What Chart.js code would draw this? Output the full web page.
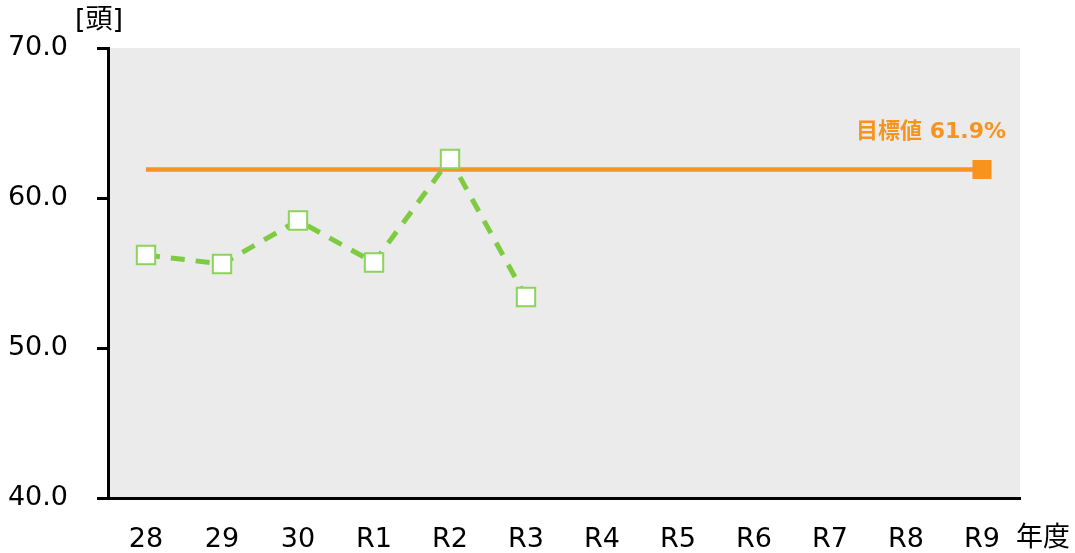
<!DOCTYPE html>
<html>
<head>
<meta charset="utf-8">
<script src="https://cdn.jsdelivr.net/npm/chart.js@4"></script>
<style>
  html, body { margin: 0; padding: 0; background: #fff; }
  #wrap { width: 1075px; height: 553px; }
</style>
</head>
<body>
<div id="wrap"><canvas id="chart"></canvas></div>
<script>
const years = ['28', '29', '30', 'R1', 'R2', 'R3', 'R4', 'R5', 'R6', 'R7', 'R8', 'R9'];
const actualValues = [56.2, 55.6, 58.5, 55.7, 62.6, 53.4, null, null, null, null, null, null];
const targetValues = [61.9, 61.9, 61.9, 61.9, 61.9, 61.9, 61.9, 61.9, 61.9, 61.9, 61.9, 61.9];
const targetLabel = '目標値 61.9%';
const yTicks = [40, 50, 60, 70];

const baseFont = '"DejaVu Sans", "Noto Sans CJK JP", sans-serif';

// gray plot background + extra texts
const decorPlugin = {
    id: 'decor',
    beforeDraw(chart) {
        const a = chart.chartArea;
        const ctx = chart.ctx;
        ctx.save();
        ctx.fillStyle = '#ebebeb';
        ctx.fillRect(a.left, a.top, a.right - a.left, a.bottom - a.top);
        ctx.restore();
    },
    afterDraw(chart) {
        const ctx = chart.ctx;
        ctx.save();
        ctx.fillStyle = '#000';
        ctx.font = '27px ' + baseFont;
        ctx.textBaseline = 'middle';
        ctx.textAlign = 'left';
        ctx.fillText('[頭]', 75, 21);
        ctx.fillText('年度', 1016, 539);

        ctx.fillStyle = '#f7941d';
        ctx.font = 'bold 22px ' + baseFont;
        ctx.textAlign = 'right';
        ctx.fillText(targetLabel, 1006, 132);
        ctx.restore();
    }
};

new Chart(document.getElementById('chart'), {
    type: 'line',
    data: {
        labels: years,
        datasets: [
            {
                label: '実績',
                data: actualValues,
                borderColor: '#7ecb41',
                borderWidth: 5,
                borderDash: [14, 11],
                pointStyle: 'rect',
                pointRadius: 13,
                pointBackgroundColor: '#ffffff',
                pointBorderColor: '#8cd35a',
                pointBorderWidth: 2,
                tension: 0,
                spanGaps: false,
                order: 1
            },
            {
                label: '目標値',
                data: targetValues,
                borderColor: '#f7941d',
                borderWidth: 4.5,
                pointStyle: 'rect',
                pointRadius: targetValues.map((v, i) => i === targetValues.length - 1 ? 13.5 : 0),
                pointBackgroundColor: '#f7941d',
                pointBorderColor: '#f7941d',
                pointBorderWidth: 0,
                tension: 0,
                order: 2
            }
        ]
    },
    options: {
        responsive: true,
        maintainAspectRatio: false,
        animation: false,
        layout: { padding: { top: 48, right: 55, left: 0, bottom: 0 } },
        plugins: {
            legend: { display: false },
            tooltip: { enabled: false },
            title: { display: false }
        },
        scales: {
            x: {
                offset: true,
                grid: { display: false, drawTicks: false },
                border: { display: true, color: '#000', width: 3 },
                ticks: {
                    color: '#000',
                    font: { family: baseFont, size: 27 },
                    padding: 26,
                    maxRotation: 0,
                    autoSkip: false
                },
                afterFit(scale) { scale.height = 55; }
            },
            y: {
                min: 40,
                max: 70,
                afterBuildTicks(scale) { scale.ticks = yTicks.map(v => ({ value: v })); },
                grid: { drawOnChartArea: false, drawTicks: true, tickLength: 11, color: '#000', lineWidth: 3 },
                border: { display: true, color: '#000', width: 3 },
                ticks: {
                    color: '#000',
                    font: { family: baseFont, size: 27 },
                    padding: 29,
                    callback: v => Number(v).toFixed(1)
                },
                afterFit(scale) { scale.width = 108; }
            }
        }
    },
    plugins: [decorPlugin]
});
</script>
</body>
</html>
